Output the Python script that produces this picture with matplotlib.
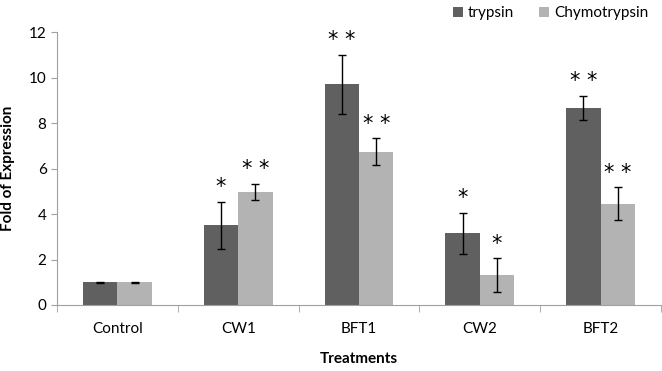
import matplotlib.pyplot as plt
import numpy as np

plt.rcParams['font.family'] = ['Lato', 'DejaVu Sans']

treatments = ['Control', 'CW1', 'BFT1', 'CW2', 'BFT2']
trypsin = [1.0, 3.5, 9.7, 3.15, 8.67]
trypsin_err = [0.03, 1.04, 1.3, 0.9, 0.53]
chymo = [1.0, 4.97, 6.74, 1.3, 4.45]
chymo_err = [0.03, 0.35, 0.58, 0.75, 0.73]
trypsin_sig = ['', '*', '* *', '*', '* *']
chymo_sig = ['', '* *', '* *', '*', '* *']

dark = '#606060'
light = '#b3b3b3'
axis_col = '#a0a0a0'

fig = plt.figure(figsize=(6.62, 3.71), dpi=100)
ax = fig.add_axes([0.0861, 0.1779, 0.9124, 0.7358])

x = np.arange(len(treatments))
w = 0.285
ek = dict(ecolor='black', elinewidth=1.0, capsize=3, capthick=1.0)
ax.bar(x - w / 2, trypsin, w, color=dark, yerr=trypsin_err, error_kw=ek, label='trypsin')
ax.bar(x + w / 2, chymo, w, color=light, yerr=chymo_err, error_kw=ek, label='Chymotrypsin')

for i in range(len(x)):
    if trypsin_sig[i]:
        ax.text(x[i] - w / 2, trypsin[i] + trypsin_err[i] + 0.2, trypsin_sig[i],
                ha='center', va='bottom', fontsize=15, family='DejaVu Sans')
    if chymo_sig[i]:
        ax.text(x[i] + w / 2, chymo[i] + chymo_err[i] + 0.2, chymo_sig[i],
                ha='center', va='bottom', fontsize=15, family='DejaVu Sans')

ax.set_xlim(-0.5, len(x) - 0.5)
ax.set_ylim(0, 12)
ax.set_yticks(range(0, 13, 2))
ax.set_xticks(x)
ax.set_xticklabels(treatments, fontsize=11)
ax.tick_params(axis='x', length=0, pad=12)
ax.set_xticks(np.arange(-0.5, len(x), 1), minor=True)
ax.tick_params(axis='x', which='minor', length=5, color=axis_col, direction='out')
ax.tick_params(axis='y', labelsize=11, length=4, color=axis_col)

for s in ['top', 'right']:
    ax.spines[s].set_visible(False)
for s in ['left', 'bottom']:
    ax.spines[s].set_color(axis_col)

ax.set_xlabel('Treatments', fontsize=11, fontweight='bold', labelpad=12)
ax.set_ylabel('Fold of Expression', fontsize=11, fontweight='bold', labelpad=10)

fig.legend(loc='upper right', bbox_to_anchor=(1.0, 1.02), ncol=2, frameon=False,
           fontsize=11, handlelength=0.7, handleheight=0.7, handletextpad=0.3,
           columnspacing=1.6)

fig.savefig('out.png', dpi=100)
